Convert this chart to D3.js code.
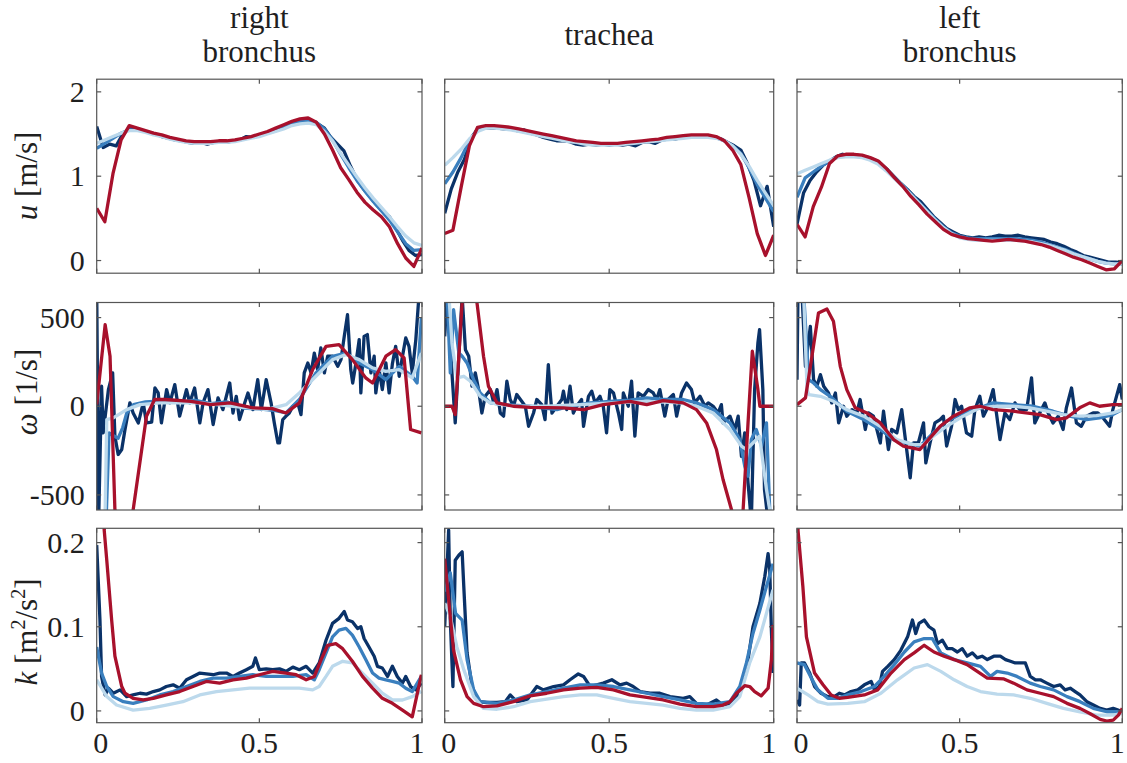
<!DOCTYPE html>
<html>
<head>
<meta charset="utf-8">
<script src="https://cdn.jsdelivr.net/npm/d3@7"></script>
<style>
body{margin:0;background:#fff}
svg text{font-family:"Liberation Serif","Times New Roman",serif;fill:#1f1f1f}
</style>
</head>
<body>
<svg id="chart" width="1127" height="763"></svg>
<script>
// column titles, row variables, ticks
var colTitles = [['right', 'bronchus'], ['trachea'], ['left', 'bronchus']]
var rowVars = ['u', 'ω', 'k']
var rowUnits = ['[m/s]', '[1/s]', '[m^2/s^2]']
var xTicks = [0, 0.5, 1]
var xTickLabels = ['0', '0.5', '1']
var yTicks = [[0, 1, 2], [-500, 0, 500], [0, 0.1, 0.2]]
var yTickLabels = [['0', '1', '2'], ['-500', '0', '500'], ['0', '0.1', '0.2']]
var yDomains = [[-0.15, 2.15], [-585, 585], [-0.014, 0.217]]

var seriesNames = ['navy', 'mid', 'light', 'red']
var seriesColors = ['#0a3268', '#3a7fbe', '#bcd9ec', '#a8112c']

// u: evenly spaced samples over [0, 1]
var uRightNavy = [1.59, 1.34, 1.38, 1.36, 1.50, 1.56, 1.56, 1.54, 1.52, 1.50, 1.47, 1.45, 1.43, 1.42, 1.40, 1.39, 1.40, 1.38, 1.40, 1.41, 1.40, 1.42, 1.43, 1.47, 1.46, 1.48, 1.51, 1.53, 1.56, 1.59, 1.62, 1.65, 1.67, 1.66, 1.62, 1.57, 1.46, 1.38, 1.30, 1.12, 0.96, 0.85, 0.76, 0.66, 0.58, 0.52, 0.38, 0.24, 0.12, 0.06, 0.07]
var uRightMid = [1.33, 1.39, 1.45, 1.51, 1.55, 1.55, 1.53, 1.50, 1.48, 1.45, 1.43, 1.41, 1.40, 1.40, 1.40, 1.41, 1.41, 1.42, 1.44, 1.46, 1.48, 1.51, 1.54, 1.58, 1.62, 1.65, 1.66, 1.64, 1.56, 1.43, 1.26, 1.10, 0.95, 0.82, 0.70, 0.59, 0.48, 0.34, 0.20, 0.12, 0.13]
var uRightLight = [1.39, 1.43, 1.47, 1.51, 1.54, 1.54, 1.52, 1.49, 1.47, 1.44, 1.42, 1.40, 1.39, 1.39, 1.39, 1.40, 1.40, 1.41, 1.43, 1.45, 1.47, 1.50, 1.53, 1.56, 1.60, 1.62, 1.63, 1.61, 1.53, 1.42, 1.27, 1.13, 0.99, 0.86, 0.74, 0.63, 0.52, 0.40, 0.29, 0.21, 0.18]
var uRightRed = [0.62, 0.46, 1.03, 1.43, 1.60, 1.57, 1.54, 1.51, 1.49, 1.46, 1.44, 1.42, 1.41, 1.41, 1.41, 1.42, 1.42, 1.43, 1.45, 1.47, 1.50, 1.53, 1.57, 1.61, 1.65, 1.68, 1.69, 1.64, 1.50, 1.31, 1.10, 0.96, 0.81, 0.69, 0.60, 0.52, 0.40, 0.20, 0.03, -0.07, 0.15]

var uTracheaNavy = [0.56, 0.85, 1.05, 1.20, 1.45, 1.56, 1.58, 1.57, 1.57, 1.56, 1.56, 1.54, 1.55, 1.51, 1.49, 1.46, 1.44, 1.42, 1.42, 1.41, 1.38, 1.37, 1.38, 1.37, 1.38, 1.37, 1.38, 1.37, 1.38, 1.36, 1.40, 1.41, 1.39, 1.43, 1.44, 1.44, 1.46, 1.47, 1.47, 1.47, 1.47, 1.46, 1.44, 1.40, 1.36, 1.31, 1.15, 0.95, 0.65, 0.88, 0.40]
var uTracheaMid = [0.91, 1.05, 1.22, 1.42, 1.55, 1.58, 1.58, 1.57, 1.56, 1.54, 1.52, 1.50, 1.48, 1.46, 1.44, 1.42, 1.41, 1.39, 1.38, 1.38, 1.38, 1.38, 1.39, 1.40, 1.41, 1.42, 1.43, 1.44, 1.45, 1.46, 1.47, 1.47, 1.47, 1.46, 1.42, 1.36, 1.27, 1.10, 0.90, 0.74, 0.58]
var uTracheaLight = [1.13, 1.22, 1.32, 1.44, 1.53, 1.57, 1.57, 1.56, 1.55, 1.53, 1.51, 1.49, 1.47, 1.45, 1.43, 1.41, 1.40, 1.38, 1.37, 1.37, 1.37, 1.37, 1.38, 1.39, 1.40, 1.41, 1.42, 1.43, 1.44, 1.45, 1.46, 1.46, 1.46, 1.45, 1.42, 1.36, 1.26, 1.12, 0.95, 0.80, 0.65]
var uTracheaRed = [0.32, 0.36, 0.87, 1.36, 1.58, 1.60, 1.60, 1.59, 1.58, 1.56, 1.54, 1.52, 1.50, 1.48, 1.46, 1.44, 1.42, 1.41, 1.40, 1.39, 1.39, 1.39, 1.40, 1.41, 1.42, 1.43, 1.44, 1.46, 1.47, 1.48, 1.49, 1.49, 1.49, 1.47, 1.42, 1.31, 1.14, 0.75, 0.32, 0.06, 0.30]

var uLeftNavy = [0.43, 0.80, 0.95, 1.05, 1.13, 1.18, 1.23, 1.26, 1.25, 1.25, 1.24, 1.22, 1.19, 1.14, 1.07, 0.99, 0.91, 0.84, 0.76, 0.70, 0.61, 0.52, 0.45, 0.38, 0.34, 0.30, 0.28, 0.27, 0.28, 0.27, 0.28, 0.30, 0.29, 0.29, 0.30, 0.28, 0.27, 0.26, 0.25, 0.22, 0.20, 0.17, 0.13, 0.10, 0.06, 0.04, 0.02, 0.00, -0.02, -0.02, -0.03]
var uLeftMid = [0.75, 0.98, 1.05, 1.12, 1.18, 1.23, 1.25, 1.25, 1.24, 1.21, 1.16, 1.08, 0.98, 0.89, 0.79, 0.69, 0.59, 0.49, 0.40, 0.33, 0.29, 0.27, 0.26, 0.26, 0.26, 0.26, 0.26, 0.26, 0.25, 0.24, 0.22, 0.19, 0.16, 0.13, 0.09, 0.05, 0.02, -0.01, -0.03, -0.04, -0.04]
var uLeftLight = [1.03, 1.07, 1.11, 1.15, 1.19, 1.22, 1.23, 1.23, 1.22, 1.19, 1.14, 1.06, 0.97, 0.88, 0.78, 0.68, 0.58, 0.48, 0.39, 0.32, 0.27, 0.25, 0.24, 0.24, 0.24, 0.24, 0.24, 0.24, 0.23, 0.22, 0.20, 0.18, 0.15, 0.12, 0.08, 0.05, 0.02, -0.01, -0.03, -0.04, -0.04]
var uLeftRed = [0.43, 0.28, 0.64, 0.87, 1.15, 1.24, 1.26, 1.26, 1.25, 1.22, 1.18, 1.09, 0.98, 0.88, 0.76, 0.66, 0.55, 0.46, 0.37, 0.31, 0.28, 0.26, 0.25, 0.24, 0.23, 0.24, 0.25, 0.24, 0.23, 0.21, 0.19, 0.16, 0.12, 0.08, 0.04, 0.01, -0.03, -0.07, -0.11, -0.10, 0.00]

// omega: [position, value] pairs
var wRightNavy = [[0,650],[0.006,-650],[0.015,113],[0.02,-150],[0.036,94],[0.049,188],[0.056,-169],[0.066,-272],[0.077,-244],[0.087,-131],[0.102,19],[0.112,-38],[0.128,-94],[0.143,19],[0.153,-94],[0.169,-90],[0.179,103],[0.189,75],[0.199,-94],[0.215,94],[0.225,19],[0.24,122],[0.255,-56],[0.276,94],[0.286,19],[0.301,103],[0.317,-94],[0.327,19],[0.342,94],[0.358,-103],[0.373,47],[0.388,-19],[0.409,131],[0.419,-38],[0.429,56],[0.439,-75],[0.455,19],[0.465,75],[0.48,-19],[0.495,150],[0.506,-19],[0.521,150],[0.536,19],[0.546,-94],[0.557,-207],[0.562,-207],[0.572,-75],[0.582,-56],[0.592,-38],[0.603,0],[0.618,19],[0.628,-47],[0.638,188],[0.649,244],[0.659,188],[0.669,300],[0.679,207],[0.689,329],[0.7,188],[0.71,282],[0.725,282],[0.741,225],[0.751,263],[0.761,394],[0.771,516],[0.781,207],[0.787,131],[0.797,244],[0.807,376],[0.812,75],[0.822,394],[0.832,404],[0.843,188],[0.853,282],[0.858,75],[0.868,207],[0.878,94],[0.889,244],[0.899,75],[0.909,240],[0.919,338],[0.93,169],[0.94,282],[0.95,385],[0.96,338],[0.97,188],[0.981,376],[0.989,582],[0.993,650],[1,650]]
var wRightMid = [[0,-700],[0.03,-585],[0.038,-150],[0.05,-165],[0.066,-180],[0.08,-120],[0.092,-40],[0.113,9],[0.15,25],[0.2,30],[0.25,20],[0.3,35],[0.35,15],[0.4,25],[0.45,-10],[0.5,-15],[0.55,-25],[0.582,-38],[0.623,38],[0.674,188],[0.725,282],[0.766,300],[0.807,244],[0.848,207],[0.889,150],[0.93,225],[0.97,169],[0.985,131],[0.998,498]]
var wRightLight = [[0,-700],[0.026,-585],[0.031,-75],[0.051,-66],[0.092,-19],[0.133,9],[0.194,19],[0.317,19],[0.419,0],[0.521,-19],[0.582,9],[0.623,75],[0.674,169],[0.725,263],[0.766,291],[0.807,263],[0.848,216],[0.889,197],[0.93,207],[0.97,160],[0.998,300]]
var wRightRed = [[0,9],[0.026,460],[0.041,282],[0.056,-585],[0.07,-800],[0.1,-800],[0.112,-585],[0.153,-56],[0.178,38],[0.21,38],[0.29,28],[0.35,9],[0.41,19],[0.48,-9],[0.54,-13],[0.582,-38],[0.623,19],[0.664,207],[0.705,338],[0.745,347],[0.786,263],[0.827,160],[0.848,131],[0.889,282],[0.919,319],[0.945,272],[0.965,-131],[0.998,-150]]

var wTracheaNavy = [[0,394],[0.008,650],[0.022,188],[0.032,-94],[0.043,282],[0.053,620],[0.063,319],[0.073,282],[0.083,113],[0.093,188],[0.103,94],[0.113,-38],[0.123,56],[0.139,94],[0.149,19],[0.159,94],[0.169,-38],[0.179,-56],[0.189,141],[0.199,38],[0.209,0],[0.219,66],[0.234,28],[0.245,0],[0.255,-113],[0.27,-38],[0.28,38],[0.295,9],[0.305,-75],[0.315,235],[0.32,94],[0.326,-38],[0.341,0],[0.356,38],[0.361,85],[0.371,-19],[0.381,113],[0.391,-38],[0.401,0],[0.416,38],[0.422,-113],[0.437,56],[0.447,85],[0.457,19],[0.472,56],[0.482,0],[0.492,-150],[0.502,94],[0.513,75],[0.528,-38],[0.538,-131],[0.543,75],[0.558,0],[0.568,141],[0.578,-169],[0.588,75],[0.604,56],[0.619,94],[0.634,75],[0.644,38],[0.654,94],[0.669,-56],[0.679,38],[0.695,66],[0.705,-56],[0.72,75],[0.735,131],[0.75,94],[0.76,19],[0.776,56],[0.791,0],[0.801,19],[0.816,0],[0.831,-38],[0.841,9],[0.846,-94],[0.867,-56],[0.882,-131],[0.892,-56],[0.902,-282],[0.912,-150],[0.922,-432],[0.932,-650],[0.942,94],[0.952,357],[0.957,432],[0.967,94],[0.972,-470],[0.983,-650],[1,-650]]
var wTracheaMid = [[0,650],[0.007,650],[0.017,188],[0.027,545],[0.043,300],[0.053,282],[0.068,244],[0.088,150],[0.108,75],[0.139,19],[0.179,9],[0.26,0],[0.341,-19],[0.381,0],[0.442,19],[0.502,28],[0.563,34],[0.614,47],[0.664,38],[0.725,38],[0.765,19],[0.816,-19],[0.867,-94],[0.897,-188],[0.912,-338],[0.922,-394],[0.932,-188],[0.947,-131],[0.963,-225],[0.978,-94],[0.988,-585],[1,-700]]
var wTracheaLight = [[0,650],[0.012,650],[0.022,357],[0.037,160],[0.058,169],[0.078,141],[0.108,56],[0.139,19],[0.209,0],[0.31,0],[0.412,9],[0.513,19],[0.614,28],[0.715,19],[0.765,0],[0.816,-38],[0.867,-131],[0.902,-225],[0.917,-244],[0.937,-207],[0.957,-169],[0.978,-470],[0.988,-585],[1,-700]]
var wTracheaRed = [[0,0],[0.022,0],[0.032,-47],[0.053,585],[0.075,1300],[0.098,585],[0.118,282],[0.133,113],[0.159,19],[0.209,0],[0.26,-6],[0.361,-9],[0.422,-19],[0.482,9],[0.563,28],[0.614,9],[0.664,32],[0.725,19],[0.765,-19],[0.796,-94],[0.826,-244],[0.846,-413],[0.872,-585],[0.89,-800],[0.907,-585],[0.922,-94],[0.935,310],[0.952,94],[0.958,0],[1,0]]

var wLeftNavy = [[0,150],[0.003,650],[0.015,650],[0.026,225],[0.041,450],[0.051,150],[0.061,113],[0.072,178],[0.082,113],[0.097,75],[0.107,19],[0.118,75],[0.128,-94],[0.143,0],[0.153,-56],[0.169,-19],[0.184,-38],[0.194,38],[0.21,-131],[0.22,-38],[0.235,-56],[0.256,-207],[0.266,-28],[0.281,-244],[0.291,-131],[0.307,-150],[0.322,-19],[0.332,-169],[0.348,-404],[0.358,-207],[0.373,-207],[0.389,-94],[0.396,-319],[0.409,-207],[0.424,-94],[0.44,-75],[0.45,-56],[0.46,-225],[0.475,-113],[0.486,38],[0.496,-19],[0.506,0],[0.521,-150],[0.537,-169],[0.547,-19],[0.562,56],[0.573,-56],[0.588,0],[0.603,94],[0.613,-38],[0.624,-188],[0.639,-38],[0.654,-75],[0.67,19],[0.685,-19],[0.706,-19],[0.721,160],[0.731,-94],[0.746,-38],[0.762,19],[0.772,-38],[0.787,-94],[0.803,-56],[0.818,-131],[0.828,-9],[0.844,103],[0.859,-94],[0.874,-113],[0.89,-56],[0.91,-38],[0.925,-38],[0.941,-66],[0.961,-113],[0.971,-19],[0.992,122],[1,38]]
var wLeftMid = [[0,650],[0.02,650],[0.036,150],[0.051,131],[0.072,94],[0.102,56],[0.153,-28],[0.205,-75],[0.256,-131],[0.297,-188],[0.337,-207],[0.378,-225],[0.419,-150],[0.46,-85],[0.511,-38],[0.562,-9],[0.603,19],[0.665,9],[0.726,0],[0.787,-28],[0.838,-56],[0.89,-75],[0.93,-66],[0.971,-47],[1,-19]]
var wLeftLight = [[0,650],[0.02,650],[0.031,94],[0.036,66],[0.072,56],[0.112,28],[0.153,-19],[0.205,-56],[0.256,-113],[0.307,-188],[0.358,-216],[0.389,-216],[0.419,-169],[0.46,-113],[0.511,-56],[0.562,-9],[0.613,0],[0.665,0],[0.716,-9],[0.767,-28],[0.818,-47],[0.869,-56],[0.92,-53],[0.971,-38],[1,-19]]
var wLeftRed = [[0,9],[0.026,47],[0.046,282],[0.066,526],[0.092,548],[0.112,479],[0.133,225],[0.153,94],[0.179,-9],[0.215,-38],[0.256,-94],[0.297,-188],[0.327,-225],[0.378,-244],[0.409,-178],[0.44,-113],[0.481,-56],[0.532,-9],[0.562,0],[0.603,-19],[0.665,-28],[0.746,-47],[0.798,-75],[0.828,-66],[0.869,-9],[0.9,19],[0.93,0],[0.971,9],[1,9]]

// k: [position, value] pairs
var kRightNavy = [[0,0.197],[0.01,0.108],[0.015,0.041],[0.026,0.019],[0.036,0.027],[0.051,0.021],[0.072,0.025],[0.092,0.017],[0.112,0.019],[0.133,0.021],[0.153,0.020],[0.174,0.023],[0.194,0.025],[0.214,0.029],[0.235,0.031],[0.255,0.027],[0.276,0.037],[0.296,0.041],[0.317,0.045],[0.337,0.044],[0.358,0.043],[0.378,0.045],[0.399,0.045],[0.419,0.041],[0.439,0.045],[0.46,0.049],[0.48,0.053],[0.488,0.063],[0.5,0.049],[0.521,0.050],[0.541,0.049],[0.562,0.050],[0.582,0.047],[0.603,0.052],[0.623,0.049],[0.644,0.053],[0.664,0.045],[0.684,0.057],[0.705,0.084],[0.725,0.104],[0.745,0.110],[0.761,0.118],[0.771,0.108],[0.786,0.106],[0.802,0.098],[0.812,0.100],[0.822,0.086],[0.837,0.076],[0.853,0.065],[0.863,0.053],[0.878,0.051],[0.894,0.041],[0.909,0.053],[0.924,0.041],[0.94,0.033],[0.95,0.041],[0.965,0.029],[0.981,0.025],[0.998,0.033]]
var kRightMid = [[0,0.076],[0.015,0.045],[0.031,0.029],[0.051,0.017],[0.082,0.011],[0.112,0.009],[0.153,0.013],[0.194,0.019],[0.235,0.023],[0.276,0.029],[0.317,0.035],[0.358,0.039],[0.399,0.039],[0.439,0.041],[0.48,0.043],[0.521,0.041],[0.562,0.041],[0.603,0.041],[0.644,0.043],[0.669,0.037],[0.684,0.049],[0.705,0.069],[0.725,0.088],[0.745,0.096],[0.766,0.098],[0.786,0.090],[0.807,0.076],[0.827,0.061],[0.848,0.045],[0.868,0.039],[0.889,0.037],[0.909,0.035],[0.93,0.033],[0.95,0.027],[0.97,0.023],[0.998,0.041]]
var kRightLight = [[0,0.037],[0.031,0.017],[0.061,0.007],[0.112,0.001],[0.163,0.003],[0.214,0.007],[0.265,0.011],[0.317,0.019],[0.368,0.023],[0.419,0.025],[0.47,0.027],[0.521,0.027],[0.572,0.027],[0.623,0.027],[0.664,0.025],[0.684,0.029],[0.705,0.041],[0.725,0.053],[0.756,0.059],[0.786,0.057],[0.817,0.045],[0.848,0.033],[0.878,0.021],[0.909,0.013],[0.94,0.013],[0.97,0.017],[0.998,0.023]]
var kRightRed = [[0,0.40],[0.023,0.215],[0.031,0.179],[0.046,0.108],[0.056,0.065],[0.077,0.029],[0.087,0.021],[0.112,0.015],[0.143,0.013],[0.174,0.015],[0.214,0.019],[0.255,0.023],[0.296,0.029],[0.337,0.035],[0.378,0.033],[0.419,0.037],[0.46,0.039],[0.5,0.043],[0.541,0.047],[0.582,0.045],[0.613,0.043],[0.644,0.037],[0.669,0.041],[0.69,0.061],[0.71,0.078],[0.735,0.080],[0.756,0.074],[0.786,0.059],[0.817,0.041],[0.848,0.027],[0.878,0.015],[0.909,0.009],[0.94,0.001],[0.97,-0.007],[0.998,0.043]]

var kTracheaNavy = [[0,0.10],[0.012,0.215],[0.017,0.108],[0.025,0.029],[0.032,0.179],[0.043,0.185],[0.053,0.189],[0.058,0.148],[0.068,0.069],[0.083,0.029],[0.103,0.011],[0.128,0.010],[0.159,0.010],[0.184,0.011],[0.199,0.019],[0.219,0.011],[0.25,0.013],[0.28,0.029],[0.3,0.025],[0.331,0.029],[0.361,0.031],[0.381,0.037],[0.406,0.044],[0.422,0.041],[0.442,0.029],[0.462,0.031],[0.482,0.033],[0.508,0.037],[0.533,0.031],[0.553,0.033],[0.573,0.029],[0.594,0.023],[0.624,0.021],[0.654,0.021],[0.685,0.017],[0.725,0.015],[0.745,0.017],[0.765,0.009],[0.796,0.007],[0.826,0.013],[0.846,0.007],[0.867,0.009],[0.887,0.017],[0.907,0.037],[0.922,0.061],[0.937,0.100],[0.958,0.128],[0.973,0.160],[0.983,0.187],[0.988,0.168],[0.993,0.096],[0.998,0.045]]
var kTracheaMid = [[0,0.142],[0.017,0.164],[0.033,0.116],[0.053,0.108],[0.068,0.061],[0.088,0.025],[0.108,0.011],[0.159,0.009],[0.209,0.013],[0.26,0.019],[0.31,0.023],[0.361,0.027],[0.412,0.031],[0.462,0.031],[0.513,0.029],[0.563,0.025],[0.614,0.021],[0.664,0.017],[0.715,0.013],[0.765,0.009],[0.816,0.008],[0.867,0.011],[0.897,0.029],[0.917,0.057],[0.937,0.092],[0.958,0.120],[0.978,0.148],[0.998,0.175]]
var kTracheaLight = [[0,0.128],[0.017,0.112],[0.037,0.076],[0.058,0.049],[0.088,0.017],[0.118,0.003],[0.159,0.002],[0.209,0.005],[0.26,0.011],[0.31,0.014],[0.361,0.017],[0.412,0.019],[0.462,0.019],[0.513,0.015],[0.563,0.011],[0.614,0.009],[0.664,0.007],[0.715,0.003],[0.765,0.001],[0.816,0.001],[0.867,0.005],[0.897,0.017],[0.927,0.057],[0.958,0.088],[0.978,0.116],[0.998,0.144]]
var kTracheaRed = [[0,0.181],[0.012,0.132],[0.027,0.072],[0.048,0.037],[0.068,0.017],[0.088,0.009],[0.118,0.005],[0.159,0.006],[0.209,0.011],[0.26,0.018],[0.31,0.021],[0.361,0.025],[0.412,0.027],[0.462,0.028],[0.513,0.025],[0.563,0.019],[0.614,0.016],[0.664,0.013],[0.715,0.008],[0.765,0.005],[0.816,0.005],[0.846,0.007],[0.867,0.011],[0.887,0.021],[0.912,0.030],[0.927,0.029],[0.942,0.023],[0.962,0.018],[0.983,0.027],[0.993,0.061],[0.998,0.102]]

var kLeftNavy = [[0,0.013],[0.008,0.007],[0.013,0.057],[0.023,0.057],[0.039,0.045],[0.054,0.029],[0.074,0.021],[0.095,0.017],[0.115,0.017],[0.13,0.021],[0.146,0.019],[0.166,0.023],[0.187,0.025],[0.207,0.031],[0.228,0.035],[0.238,0.025],[0.253,0.029],[0.263,0.047],[0.279,0.053],[0.299,0.061],[0.319,0.072],[0.34,0.088],[0.355,0.108],[0.365,0.092],[0.375,0.104],[0.391,0.108],[0.406,0.100],[0.421,0.096],[0.432,0.080],[0.447,0.084],[0.462,0.074],[0.477,0.074],[0.493,0.070],[0.508,0.074],[0.523,0.065],[0.539,0.069],[0.554,0.063],[0.569,0.065],[0.585,0.061],[0.605,0.065],[0.625,0.065],[0.641,0.061],[0.656,0.059],[0.671,0.057],[0.687,0.057],[0.702,0.057],[0.717,0.041],[0.733,0.037],[0.748,0.037],[0.768,0.033],[0.789,0.029],[0.809,0.031],[0.824,0.025],[0.84,0.027],[0.855,0.023],[0.87,0.019],[0.891,0.011],[0.911,0.007],[0.932,0.003],[0.952,0.001],[0.972,0.003],[0.987,0.001],[1,-0.001]]
var kLeftMid = [[0,0.057],[0.023,0.055],[0.044,0.039],[0.064,0.025],[0.095,0.015],[0.126,0.015],[0.156,0.019],[0.197,0.023],[0.238,0.029],[0.268,0.041],[0.299,0.055],[0.33,0.070],[0.36,0.082],[0.391,0.086],[0.416,0.086],[0.442,0.069],[0.483,0.061],[0.523,0.057],[0.564,0.053],[0.595,0.041],[0.615,0.047],[0.646,0.045],[0.676,0.041],[0.717,0.033],[0.748,0.029],[0.789,0.025],[0.83,0.017],[0.87,0.011],[0.911,0.003],[0.952,-0.001],[1,-0.001]]
var kLeftLight = [[0,0.027],[0.034,0.019],[0.064,0.011],[0.095,0.008],[0.156,0.009],[0.207,0.011],[0.258,0.021],[0.309,0.037],[0.36,0.051],[0.401,0.055],[0.442,0.047],[0.483,0.037],[0.523,0.029],[0.564,0.023],[0.615,0.020],[0.666,0.019],[0.717,0.015],[0.768,0.009],[0.819,0.003],[0.87,-0.001],[0.921,-0.005],[0.972,-0.005],[1,-0.003]]
var kLeftRed = [[0,0.24],[0.003,0.215],[0.018,0.148],[0.029,0.088],[0.054,0.045],[0.08,0.031],[0.105,0.019],[0.13,0.015],[0.156,0.016],[0.207,0.019],[0.248,0.025],[0.289,0.045],[0.33,0.061],[0.36,0.069],[0.391,0.078],[0.421,0.070],[0.452,0.065],[0.483,0.061],[0.523,0.055],[0.554,0.047],[0.585,0.039],[0.636,0.038],[0.666,0.033],[0.707,0.025],[0.748,0.021],[0.789,0.017],[0.83,0.009],[0.87,0.003],[0.9,-0.003],[0.932,-0.010],[0.952,-0.012],[0.972,-0.011],[0.988,-0.005],[1,0.003]]

var grid = [
  [[uRightNavy, uRightMid, uRightLight, uRightRed], [uTracheaNavy, uTracheaMid, uTracheaLight, uTracheaRed], [uLeftNavy, uLeftMid, uLeftLight, uLeftRed]],
  [[wRightNavy, wRightMid, wRightLight, wRightRed], [wTracheaNavy, wTracheaMid, wTracheaLight, wTracheaRed], [wLeftNavy, wLeftMid, wLeftLight, wLeftRed]],
  [[kRightNavy, kRightMid, kRightLight, kRightRed], [kTracheaNavy, kTracheaMid, kTracheaLight, kTracheaRed], [kLeftNavy, kLeftMid, kLeftLight, kLeftRed]]
]

// layout
var colLeft = [96.7, 444.7, 797], colWidth = [325.3, 329, 325.3]
var rowTop = [79.2, 302.5, 528.3], rowHeight = [194, 207.5, 194.4]
var labelY = [176, 392, 632]
var tickLen = 4.5, axisColor = '#555'

var svg = d3.select('#chart')
var defs = svg.append('defs')

function pts(arr){
  return Array.isArray(arr[0]) ? arr : arr.map(function(v, i){ return [i / (arr.length - 1), v] })
}

grid.forEach(function(row, r){
  row.forEach(function(series, c){
    var x = d3.scaleLinear().domain([0, 1]).range([colLeft[c], colLeft[c] + colWidth[c]])
    var y = d3.scaleLinear().domain(yDomains[r]).range([rowTop[r] + rowHeight[r], rowTop[r]])
    var id = 'clip-' + r + '-' + c

    defs.append('clipPath').attr('id', id).append('rect')
      .attr('x', colLeft[c]).attr('y', rowTop[r])
      .attr('width', colWidth[c]).attr('height', rowHeight[r])

    var g = svg.append('g')
    var line = d3.line().x(function(d){ return x(d[0]) }).y(function(d){ return y(d[1]) })

    g.append('g').attr('clip-path', 'url(#' + id + ')')
      .selectAll('path').data(series).join('path')
      .attr('d', function(d){ return line(pts(d)) })
      .attr('fill', 'none')
      .attr('stroke', function(d, i){ return seriesColors[i] })
      .attr('stroke-width', 3.3)
      .attr('stroke-linejoin', 'round')
      .attr('class', function(d, i){ return seriesNames[i] })

    // box and inward ticks on all four sides
    g.append('rect')
      .attr('x', colLeft[c]).attr('y', rowTop[r])
      .attr('width', colWidth[c]).attr('height', rowHeight[r])
      .attr('fill', 'none').attr('stroke', axisColor).attr('stroke-width', 1.2)

    var y0 = y.range()[0], y1 = y.range()[1], x0 = x.range()[0], x1 = x.range()[1]
    xTicks.forEach(function(t){
      g.append('line').attr('x1', x(t)).attr('x2', x(t)).attr('y1', y0).attr('y2', y0 - tickLen)
        .attr('stroke', axisColor).attr('stroke-width', 1.2)
      g.append('line').attr('x1', x(t)).attr('x2', x(t)).attr('y1', y1).attr('y2', y1 + tickLen)
        .attr('stroke', axisColor).attr('stroke-width', 1.2)
    })
    yTicks[r].forEach(function(t){
      g.append('line').attr('x1', x0).attr('x2', x0 + tickLen).attr('y1', y(t)).attr('y2', y(t))
        .attr('stroke', axisColor).attr('stroke-width', 1.2)
      g.append('line').attr('x1', x1).attr('x2', x1 - tickLen).attr('y1', y(t)).attr('y2', y(t))
        .attr('stroke', axisColor).attr('stroke-width', 1.2)
    })

    if (c == 0){
      g.selectAll('text.ytick').data(yTicks[r]).join('text')
        .attr('class', 'ytick')
        .attr('x', x0 - 12).attr('y', function(d){ return y(d) })
        .attr('dy', '0.34em').attr('text-anchor', 'end')
        .style('font-size', '30px')
        .text(function(d, i){ return yTickLabels[r][i] })

      var lab = g.append('text')
        .attr('transform', 'translate(37,' + labelY[r] + ') rotate(-90)')
        .attr('text-anchor', 'middle')
        .style('font-size', '31px')
      lab.append('tspan').style('font-style', 'italic').text(rowVars[r])
      var parts = (' ' + rowUnits[r]).split(/\^(\d)/)
      parts.forEach(function(p, i){
        if (i % 2) lab.append('tspan').attr('dy', -12).style('font-size', '20px').text(p)
        else if (p) lab.append('tspan').attr('dy', i ? 12 : 0).text(p)
      })
    }

    if (r == 2){
      // end labels sit a few px inside the box, as in the source figure
      g.selectAll('text.xtick').data(xTicks).join('text')
        .attr('class', 'xtick')
        .attr('x', function(d){ return x(d) + (d == 0 ? 4 : d == 1 ? -5 : 0) }).attr('y', 753)
        .attr('text-anchor', 'middle')
        .style('font-size', '30px')
        .text(function(d, i){ return xTickLabels[i] })
    }

    if (r == 0){
      var lines = colTitles[c]
      var base = lines.length == 2 ? [27.5, 62] : [44.5]
      lines.forEach(function(s, i){
        g.append('text')
          .attr('x', (x0 + x1) / 2).attr('y', base[i])
          .attr('text-anchor', 'middle')
          .style('font-size', '31px')
          .text(s)
      })
    }
  })
})
</script>
</body>
</html>
